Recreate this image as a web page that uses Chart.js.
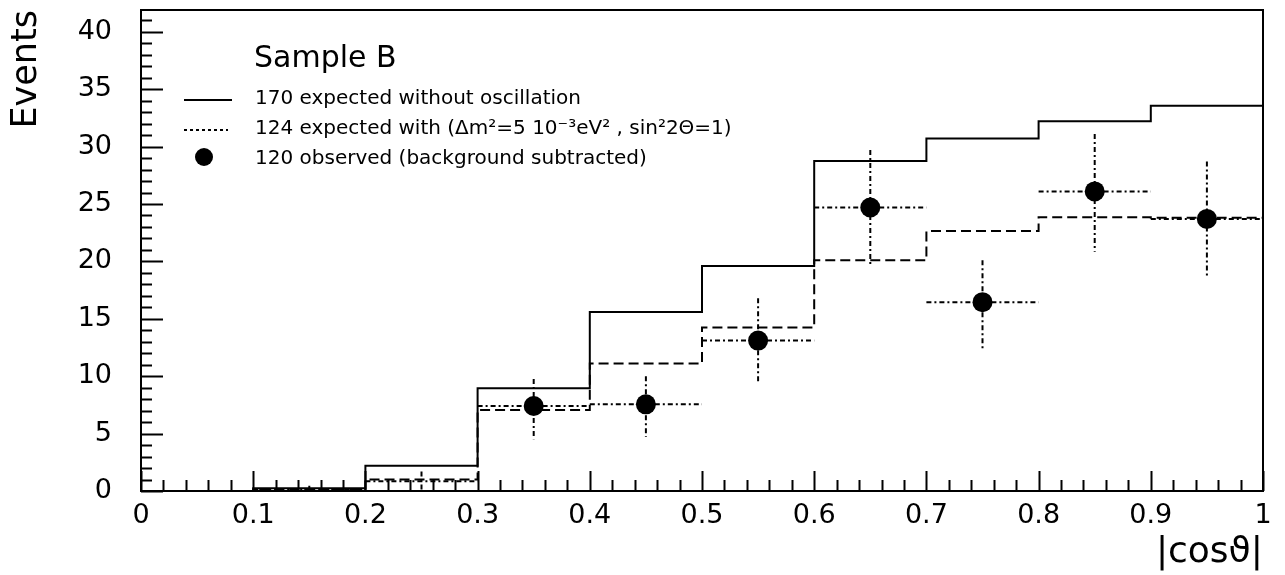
<!DOCTYPE html>
<html>
<head>
<meta charset="utf-8">
<style>
  html, body { margin: 0; padding: 0; background: #fff; }
  #wrap { width: 1285px; height: 575px; position: relative; }
</style>
<script src="https://cdn.jsdelivr.net/npm/chart.js@4.4.1/dist/chart.umd.min.js"></script>
</head>
<body>
<div id="wrap"><canvas id="c" width="1285" height="575"></canvas></div>
<script>
// ---- data ----
const binEdges = [0, 0.1, 0.2, 0.3, 0.4, 0.5, 0.6, 0.7, 0.8, 0.9, 1.0];
const expectedNoOsc = [0, 0.25, 2.2, 8.95, 15.6, 19.6, 28.75, 30.7, 32.2, 33.55];
const expectedOsc   = [0, 0.15, 1.0, 7.05, 11.1, 14.25, 20.1, 22.65, 23.85, 23.8];
const obsX    = [0.15, 0.25, 0.35, 0.45, 0.55, 0.65, 0.75, 0.85, 0.95];
const obsY    = [0.15, 0.85, 7.4, 7.55, 13.1, 24.7, 16.45, 26.1, 23.7];
const obsLow  = [0, 0, 4.5, 4.7, 9.45, 19.55, 12.2, 20.85, 18.7];
const obsHigh = [0.45, 1.7, 9.75, 10.0, 16.8, 29.7, 20.1, 31.1, 28.7];
const obsHalfWidth = 0.05;
const xTickValues = [0, 0.1, 0.2, 0.3, 0.4, 0.5, 0.6, 0.7, 0.8, 0.9, 1];
const yTickValues = [0, 5, 10, 15, 20, 25, 30, 35, 40];
const xMinorStep = 0.02, yMinorStep = 1;
const yMax = 41.9;
const legendTitle = 'Sample B';
const legendLabels = [
  '170 expected without oscillation',
  '124 expected with (\u0394m\u00B2=5 10\u207B\u00B3eV\u00B2 , sin\u00B22\u0398=1)',
  '120 observed (background subtracted)'
];

function stepPoints(vals) {
  const pts = vals.map((v, i) => ({ x: binEdges[i], y: v }));
  pts.push({ x: binEdges[binEdges.length - 1], y: vals[vals.length - 1] });
  return pts;
}

const FONT = '"DejaVu Sans", sans-serif';

const errorBars = {
  id: 'errorBars',
  beforeDatasetsDraw(chart) {
    const { ctx, scales: { x, y } } = chart;
    ctx.save();
    ctx.strokeStyle = '#000';
    ctx.lineWidth = 2;
    ctx.setLineDash([5, 3, 2, 3]);
    obsX.forEach((xv, i) => {
      const px = x.getPixelForValue(xv);
      const py = y.getPixelForValue(obsY[i]);
      ctx.beginPath();
      ctx.moveTo(x.getPixelForValue(xv - obsHalfWidth), py);
      ctx.lineTo(x.getPixelForValue(xv + obsHalfWidth), py);
      ctx.moveTo(px, y.getPixelForValue(obsHigh[i]));
      ctx.lineTo(px, y.getPixelForValue(obsLow[i]));
      ctx.stroke();
    });
    ctx.restore();
  }
};

const frameAndLegend = {
  id: 'frameAndLegend',
  afterDraw(chart) {
    const { ctx, chartArea: a, scales: { x, y } } = chart;
    ctx.save();
    ctx.strokeStyle = '#000';
    ctx.lineWidth = 2;
    ctx.setLineDash([]);
    ctx.strokeRect(a.left, a.top, a.right - a.left, a.bottom - a.top);
    ctx.beginPath();
    for (let k = 0; k <= Math.round(1 / xMinorStep); k++) {
      const v = k * xMinorStep;
      const major = k % 5 === 0;
      const px = Math.round(x.getPixelForValue(v)) + 0.5;
      ctx.moveTo(px, a.bottom);
      ctx.lineTo(px, a.bottom - (major ? 20 : 11));
    }
    for (let k = 0; k * yMinorStep <= yMax; k++) {
      const v = k * yMinorStep;
      const major = k % 5 === 0;
      const py = Math.round(y.getPixelForValue(v)) + 0.5;
      ctx.moveTo(a.left, py);
      ctx.lineTo(a.left + (major ? 22 : 11), py);
    }
    ctx.stroke();

    ctx.fillStyle = '#000';
    ctx.textBaseline = 'alphabetic';
    ctx.textAlign = 'left';
    ctx.font = '30px ' + FONT;
    ctx.fillText(legendTitle, 254, 67);
    ctx.font = '20px ' + FONT;
    ctx.fillText(legendLabels[0], 255, 104);
    ctx.fillText(legendLabels[1], 255, 134);
    ctx.fillText(legendLabels[2], 255, 164);
    ctx.beginPath();
    ctx.moveTo(184, 100); ctx.lineTo(232, 100);
    ctx.stroke();
    ctx.setLineDash([3, 3]);
    ctx.beginPath();
    ctx.moveTo(184, 130); ctx.lineTo(228, 130);
    ctx.stroke();
    ctx.setLineDash([]);
    ctx.beginPath();
    ctx.arc(204, 157, 9, 0, Math.PI * 2);
    ctx.fill();
    ctx.restore();
  }
};

new Chart(document.getElementById('c'), {
  type: 'scatter',
  data: {
    datasets: [
      {
        label: legendLabels[0],
        type: 'line',
        data: stepPoints(expectedNoOsc),
        stepped: true,
        borderColor: '#000',
        borderWidth: 2,
        pointRadius: 0,
        fill: false
      },
      {
        label: legendLabels[1],
        type: 'line',
        data: stepPoints(expectedOsc),
        stepped: true,
        borderColor: '#000',
        borderWidth: 2,
        borderDash: [10, 5],
        pointRadius: 0,
        fill: false
      },
      {
        label: legendLabels[2],
        data: obsX.map((xv, i) => ({ x: xv, y: obsY[i] })),
        backgroundColor: '#000',
        borderColor: '#000',
        borderWidth: 0,
        pointStyle: 'circle',
        pointRadius: (c) => (c.raw && c.raw.y < 1 ? 0 : 10),
        pointHoverRadius: 10
      }
    ]
  },
  options: {
    responsive: false,
    animation: false,
    devicePixelRatio: 1,
    layout: { padding: { left: 0, right: 22, top: 9, bottom: 0 } },
    plugins: { legend: { display: false }, tooltip: { enabled: false } },
    events: [],
    scales: {
      x: {
        type: 'linear',
        min: 0, max: 1,
        grid: { display: false, drawTicks: false },
        border: { display: false },
        afterFit(s) { s.height = 84; s.paddingLeft = 0; s.paddingRight = 0; },
        afterBuildTicks(s) { s.ticks = xTickValues.map(v => ({ value: v })); },
        ticks: {
          color: '#000',
          font: { family: FONT, size: 27 },
          padding: 9,
          maxRotation: 0,
          autoSkip: false,
          callback: (v) => String(Math.round(v * 10) / 10)
        },
        title: {
          display: true,
          text: '|cos\u03D1|',
          align: 'end',
          color: '#000',
          font: { family: FONT, size: 36 },
          padding: { top: 0, bottom: 1 }
        }
      },
      y: {
        type: 'linear',
        min: 0, max: yMax,
        grid: { display: false, drawTicks: false },
        border: { display: false },
        afterFit(s) { s.width = 141; s.paddingTop = 0; s.paddingBottom = 0; },
        afterBuildTicks(s) { s.ticks = yTickValues.map(v => ({ value: v })); },
        ticks: {
          color: '#000',
          font: { family: FONT, size: 27 },
          padding: 29,
          autoSkip: false,
          callback: (v) => String(v)
        },
        title: {
          display: true,
          text: 'Events',
          align: 'end',
          color: '#000',
          font: { family: FONT, size: 35 },
          padding: { top: 6, bottom: 0 }
        }
      }
    }
  },
  plugins: [errorBars, frameAndLegend]
});
</script>
</body>
</html>
